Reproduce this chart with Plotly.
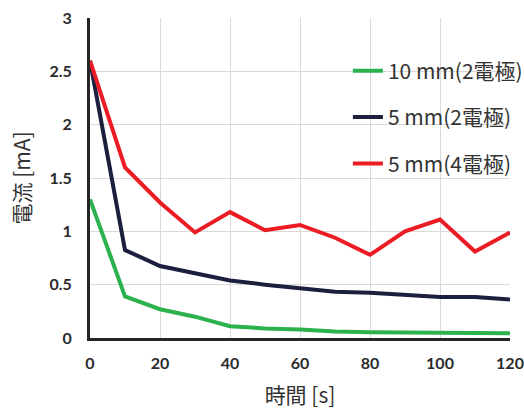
import plotly.graph_objects as go

time_s = [0, 10, 20, 30, 40, 50, 60, 70, 80, 90, 100, 110, 120]
green_10mm_2 = [1.30, 0.39, 0.27, 0.20, 0.11, 0.09, 0.08, 0.06, 0.055, 0.05, 0.05, 0.048, 0.045]
navy_5mm_2 = [2.60, 0.825, 0.675, 0.61, 0.54, 0.50, 0.466, 0.434, 0.425, 0.40, 0.384, 0.384, 0.36]
red_5mm_4 = [2.60, 1.60, 1.27, 0.99, 1.18, 1.01, 1.06, 0.94, 0.78, 1.00, 1.11, 0.81, 0.99]

names = ["10 mm(2電極)", "5 mm(2電極)", "5 mm(4電極)"]
colors = ["#2bb24c", "#1c1f3e", "#ec1c24"]
series = [green_10mm_2, navy_5mm_2, red_5mm_4]

x_ticks = [0, 20, 40, 60, 80, 100, 120]
y_ticks = [0, 0.5, 1, 1.5, 2, 2.5, 3]
y_tick_text = ["0", "0.5", "1", "1.5", "2", "2.5", "3"]

cjk = "'Noto Sans CJK JP', sans-serif"
tickfont = dict(size=16, color="#2b2b2b", family="Lato, sans-serif", weight="bold")

fig = go.Figure()
for i, (n, c, s) in enumerate(zip(names, colors, series)):
    fig.add_trace(go.Scatter(x=time_s, y=s, mode="lines", name=n,
                             legendgroup=f"g{i}",
                             line=dict(color=c, width=4)))

fig.update_layout(
    width=524, height=410,
    margin=dict(l=90, r=14, t=18, b=72, autoexpand=False),
    plot_bgcolor="white", paper_bgcolor="white",
    font=dict(family=cjk, color="#262626"),
    legend=dict(x=0.614, y=0.898, xanchor="left", yanchor="top",
                font=dict(size=21, color="#333333", family=cjk),
                tracegroupgap=16, bgcolor="rgba(0,0,0,0)"),
    xaxis=dict(range=[0, 120], tickvals=x_ticks, showgrid=True,
               gridcolor="#d9d9d9", gridwidth=1, automargin=False,
               showline=True, linecolor="#262626", linewidth=3,
               zeroline=False, ticks="", ticklabelstandoff=9,
               tickfont=tickfont,
               title=dict(text="時間 [s]", standoff=18,
                          font=dict(size=21, color="#333333", family=cjk))),
    yaxis=dict(range=[0, 3], tickvals=y_ticks, ticktext=y_tick_text,
               showgrid=True, gridcolor="#d9d9d9", gridwidth=1, automargin=False,
               showline=True, linecolor="#262626", linewidth=3,
               zeroline=False, ticks="", ticklabelstandoff=12,
               tickfont=tickfont,
               title=dict(text="電流 [mA]", standoff=14,
                          font=dict(size=21, color="#333333", family=cjk))),
)

fig.write_html("out.html", config={"displayModeBar": False},
               post_script="document.body.style.margin='0';document.body.style.overflow='hidden';")
